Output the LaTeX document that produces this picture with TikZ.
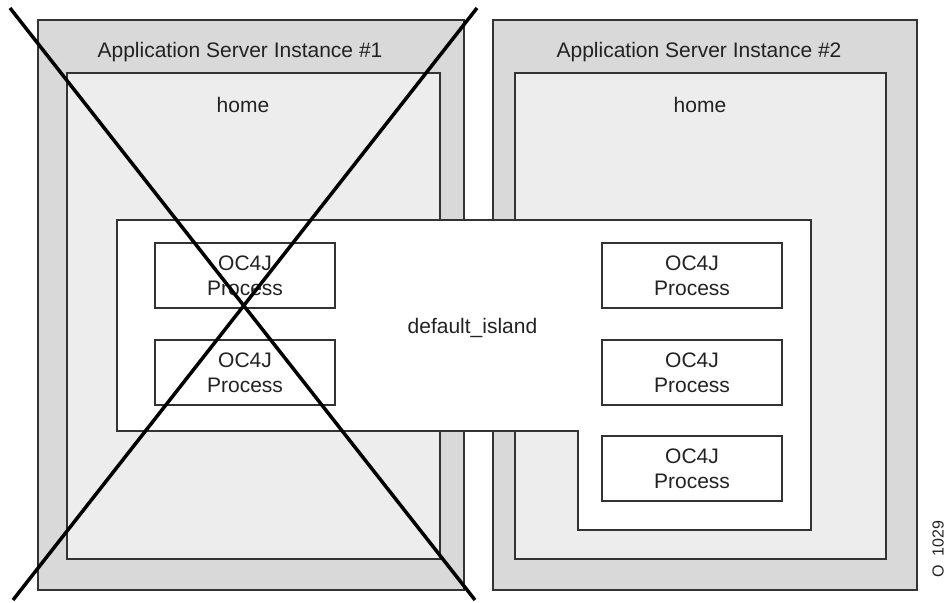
\documentclass[tikz,border=0pt]{standalone}
\usepackage{fontspec}
\setmainfont{Liberation Sans}
\definecolor{outergray}{HTML}{D9D9D9}
\definecolor{homegray}{HTML}{EDEDED}
\definecolor{edge}{HTML}{333333}
\definecolor{ink}{HTML}{222222}
\tikzset{
  server/.style={draw=edge, line width=1.3pt, fill=outergray},
  homebox/.style={draw=edge, line width=1.3pt, fill=homegray},
  island/.style={draw=edge, line width=1.3pt, fill=white},
  proc/.style={draw=edge, line width=1.3pt, fill=white, minimum width=180pt, minimum height=65pt, inner sep=0pt, align=center, text=ink, font=\fontsize{21}{25}\selectfont},
  lbl/.style={anchor=base, text=ink, inner sep=0pt, font=\fontsize{21}{25}\selectfont},
  crossline/.style={line width=3.5pt, black}
}
\begin{document}
\begin{tikzpicture}[x=1pt,y=-1pt]
\useasboundingbox (0,0) rectangle (947,602);
% servers
\draw[server] (38,20) rectangle (464,590);
\draw[server] (493,20) rectangle (917,590);
% homes
\draw[homebox] (67,73) rectangle (440,559);
\draw[homebox] (515,73) rectangle (886,559);
% island
\draw[island] (117,220) -- (811,220) -- (811,530) -- (578,530) -- (578,431) -- (117,431) -- cycle;
% processes
\node[proc] (p1) at (245,275.5) {OC4J\\Process};
\node[proc] (p2) at (245,372.5) {OC4J\\Process};
\node[proc] (p3) at (692,275.5) {OC4J\\Process};
\node[proc] (p4) at (692,372.5) {OC4J\\Process};
\node[proc] (p5) at (692,468.5) {OC4J\\Process};
% labels
\node[lbl] (t1) at (240,57) {Application Server Instance \#1};
\node[lbl] (t2) at (699,57) {Application Server Instance \#2};
\node[lbl] (h1) at (243,112) {home};
\node[lbl] (h2) at (700,112) {home};
\node[lbl] (di) at (472.5,333) {default\_island};
\node[text=ink, inner sep=0pt, rotate=90, font=\fontsize{16}{19}\selectfont] (fig) at (938,549) {O\hspace{9pt}1029};
% cross
\coordinate (c1) at (10,8);
\coordinate (c2) at (475,600);
\coordinate (c3) at (477,8);
\coordinate (c4) at (13,600);
\draw[crossline] (c1) -- (c2);
\draw[crossline] (c3) -- (c4);
\end{tikzpicture}
\end{document}
